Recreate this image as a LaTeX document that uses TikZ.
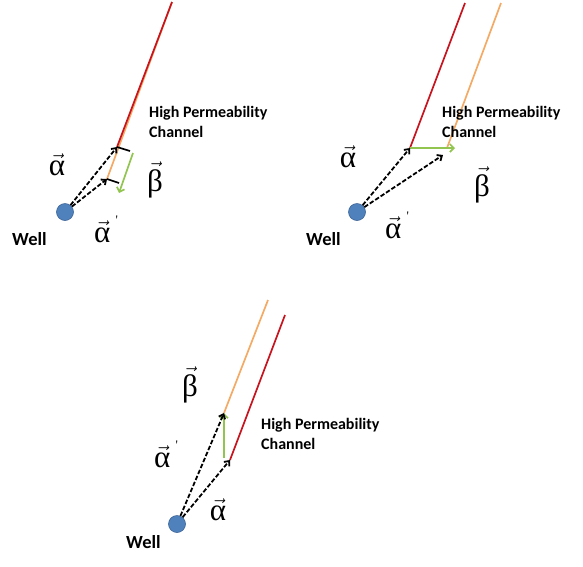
\documentclass[tikz,border=0pt]{standalone}
\usepackage{fontspec}
\setmainfont{Carlito}
\newfontfamily\grk{Liberation Serif}
\usetikzlibrary{arrows.meta}
\definecolor{chanred}{RGB}{200,20,30}
\definecolor{chanorange}{RGB}{244,170,100}
\definecolor{betagreen}{RGB}{146,196,80}
\definecolor{wellblue}{RGB}{79,129,189}
\definecolor{wellrim}{RGB}{60,100,150}
\newcommand{\vecgr}[1]{$\vec{\hbox{\grk #1}}$}
\newcommand{\primemark}{\,\raisebox{1.2ex}{\fontsize{13}{13}\selectfont\grk '}}
\begin{document}
\begin{tikzpicture}[x=1pt,y=-1pt,
		well/.style={circle, fill=wellblue, draw=wellrim, line width=0.6pt, minimum size=17pt, inner sep=0pt},
		redline/.style={draw=chanred, line width=1.7pt},
		orangeline/.style={draw=chanorange, line width=1.7pt},
		reach/.style={draw=black, dash pattern=on 4.5pt off 2pt, line width=1.8pt, -{Straight Barb[length=4pt,width=7pt]}},
		betaarrow/.style={draw=betagreen, line width=1.7pt, -{Straight Barb[length=4pt,width=8pt]}},
		tick/.style={draw=black, line width=1.7pt},
		greek/.style={font=\fontsize{31}{31}\selectfont, inner sep=0pt},
		wellname/.style={font=\fontsize{18.5}{18.5}\selectfont\bfseries, inner sep=0pt},
		chan/.style={font=\fontsize{16}{20}\selectfont\bfseries, align=left, inner sep=0pt}
		]
		\useasboundingbox (0,0) rectangle (583,566);
		
		\coordinate (t1) at (172,2);
		\coordinate (r1) at (117,147);
		\coordinate (o1) at (107,179);
		\coordinate (g1a) at (133,153);
		\coordinate (g1b) at (119,193);
		\node[well] (w1) at (65,212) {};
		\draw[orangeline] (t1) -- (o1);
		\draw[redline] (t1) -- (r1);
		\draw[tick] (r1) -- ++(13,4);
		\draw[tick] (o1) -- ++(12,4);
		\draw[betaarrow] (g1a) -- (g1b);
		\draw[reach] (w1) -- (r1);
		\draw[reach] (w1) -- (o1);
		\node[greek, anchor=base] (a1) at (57,175) {\vecgr{α}};
		\node[greek, anchor=base] (b1) at (155,191) {\vecgr{β}};
		\node[greek, anchor=base] (ap1) at (106,242) {\vecgr{α}\primemark};
		\node[wellname, anchor=base west] (n1) at (12,245) {Well};
		\node[chan, anchor=north west] (c1) at (149,106) {High Permeability\\Channel};
		
		\coordinate (t2r) at (465,3);
		\coordinate (r2) at (410,148);
		\coordinate (t2o) at (501,3);
		\coordinate (o2) at (447,148);
		\coordinate (g2) at (455,148);
		\coordinate (e2) at (443,155);
		\node[well] (w2) at (357,212) {};
		\draw[redline] (t2r) -- (r2);
		\draw[orangeline] (t2o) -- (o2);
		\draw[betaarrow] (r2) -- (g2);
		\draw[reach] (w2) -- (r2);
		\draw[reach] (w2) -- (e2);
		\node[greek, anchor=base] (a2) at (348,167) {\vecgr{α}};
		\node[greek, anchor=base] (b2) at (482,196) {\vecgr{β}};
		\node[greek, anchor=base] (ap2) at (397,238) {\vecgr{α}\primemark};
		\node[wellname, anchor=base west] (n2) at (306,245) {Well};
		\node[chan, anchor=north west] (c2) at (442,106) {High Permeability\\Channel};
		
		\coordinate (t3o) at (268,300);
		\coordinate (o3) at (224,413);
		\coordinate (t3r) at (285,315);
		\coordinate (r3) at (230,460);
		\coordinate (g3) at (224,458);
		\node[well] (w3) at (177,524) {};
		\draw[orangeline] (t3o) -- (o3);
		\draw[redline] (t3r) -- (r3);
		\draw[betaarrow] (g3) -- (o3);
		\draw[reach] (w3) -- (r3);
		\draw[reach] (w3) -- (o3);
		\node[greek, anchor=base] (b3) at (190,396) {\vecgr{β}};
		\node[greek, anchor=base] (ap3) at (166,467) {\vecgr{α}\primemark};
		\node[greek, anchor=base] (a3) at (218,520) {\vecgr{α}};
		\node[wellname, anchor=base west] (n3) at (126,548) {Well};
		\node[chan, anchor=north west] (c3) at (261,418) {High Permeability\\Channel};
	\end{tikzpicture}
\end{document}
